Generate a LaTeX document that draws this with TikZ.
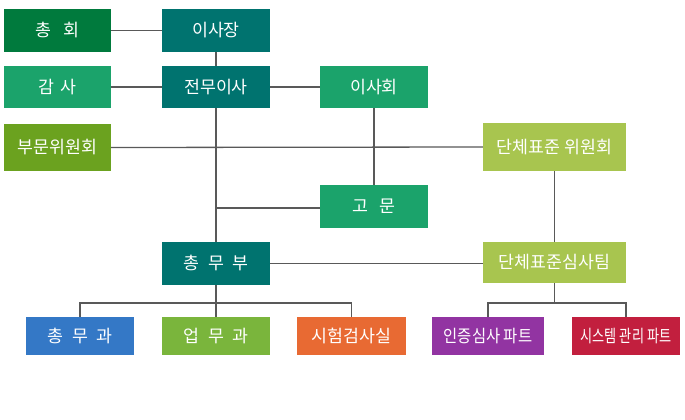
\documentclass[tikz,border=0pt]{standalone}
\usepackage{fontspec}
\usepackage{graphicx}
\setmainfont{Noto Sans CJK KR}
\begin{document}
\begin{tikzpicture}[x=1pt,y=-1pt,
  box/.style={rectangle,inner sep=0pt,text=white,font=\fontsize{17.3}{20}\selectfont},
  conn/.style={draw=black!65,line width=1.3pt}]
\definecolor{cDark}{HTML}{007A3D}
\definecolor{cTeal}{HTML}{00736F}
\definecolor{cGreen}{HTML}{1BA36B}
\definecolor{cOlive}{HTML}{6BA21F}
\definecolor{cLime}{HTML}{A8C54F}
\definecolor{cBlue}{HTML}{3478C6}
\definecolor{cLeaf}{HTML}{7AB53C}
\definecolor{cOrange}{HTML}{E86A33}
\definecolor{cPurple}{HTML}{9234A2}
\definecolor{cRed}{HTML}{C21F3E}
\fill[white] (0,0) rectangle (685,420);
\useasboundingbox (0,0) rectangle (685,420);
\newcommand{\ksp}[1]{\hspace{#1em}}
% nodes
\node[box,fill=cDark,minimum width=107pt,minimum height=43pt] (chonghoe) at (57.5,30.5) {총\ksp{0.7}회};
\node[box,fill=cTeal,minimum width=108pt,minimum height=43pt] (isajang) at (216,30.5) {이사장};
\node[box,fill=cGreen,minimum width=107pt,minimum height=42pt] (gamsa) at (57.5,87) {감\ksp{0.3}사};
\node[box,fill=cTeal,minimum width=108pt,minimum height=42pt] (jeonmu) at (216,87) {전무이사};
\node[box,fill=cOlive,minimum width=107pt,minimum height=47pt] (bumun) at (57.5,147.5) {부문위원회};
\node[box,fill=cGreen,minimum width=108pt,minimum height=42pt] (isahoe) at (374,87) {이사회};
\node[box,fill=cLime,minimum width=143pt,minimum height=48pt] (dwi) at (554.5,147) {단체표준 위원회};
\node[box,fill=cGreen,minimum width=108pt,minimum height=43pt] (gomun) at (374,206.5) {고\ksp{0.6}문};
\node[box,fill=cTeal,minimum width=108pt,minimum height=43pt] (chongmubu) at (216,263.5) {총\ksp{0.5}무\ksp{0.5}부};
\node[box,fill=cLime,minimum width=143pt,minimum height=41pt] (dteam) at (554.5,262.5) {단체표준심사팀};
\node[box,fill=cBlue,minimum width=108pt,minimum height=38pt] (chongmugwa) at (80,336) {총\ksp{0.5}무\ksp{0.5}과};
\node[box,fill=cLeaf,minimum width=108pt,minimum height=38pt] (eopmu) at (216,336) {업\ksp{0.5}무\ksp{0.5}과};
\node[box,fill=cOrange,minimum width=109pt,minimum height=38pt] (siheom) at (351.5,336) {시험검사실};
\node[box,fill=cPurple,minimum width=112pt,minimum height=38pt] (injeung) at (488,336) {\scalebox{0.89}[1]{인증심사 파트}};
\node[box,fill=cRed,minimum width=108pt,minimum height=38pt] (system) at (626,336) {\scalebox{0.76}[1]{시스템 관리 파트}};
\coordinate (gomunJ) at (216,208);
\coordinate (bL) at (216,303);
\coordinate (bR) at (554.5,303);
% connectors
\draw[conn] (chonghoe.east) -- (isajang.west);
\draw[conn] (gamsa.east) -- (jeonmu.west);
\draw[conn] (jeonmu.east) -- (isahoe.west);
\draw[conn] (isajang.south) -- (jeonmu.north);
\draw[conn] (jeonmu.south) -- (chongmubu.north);
\draw[conn] (bumun.east) -- (dwi.west);
\draw[conn] (isahoe.south) -- (gomun.north);
\draw[conn] (gomunJ) -- (gomun.west |- gomunJ);
\draw[conn] (dwi.south) -- (dteam.north);
\draw[conn] (chongmubu.east) -- (dteam.west |- chongmubu.east);
\draw[conn] (chongmubu.south) -- (bL);
\draw[conn] (chongmugwa.north) |- (bL) -| (siheom.north);
\draw[conn] (bL) -- (eopmu.north);
\draw[conn] (dteam.south) -- (bR);
\draw[conn] (injeung.north) |- (bR) -| (system.north);
\end{tikzpicture}
\end{document}
